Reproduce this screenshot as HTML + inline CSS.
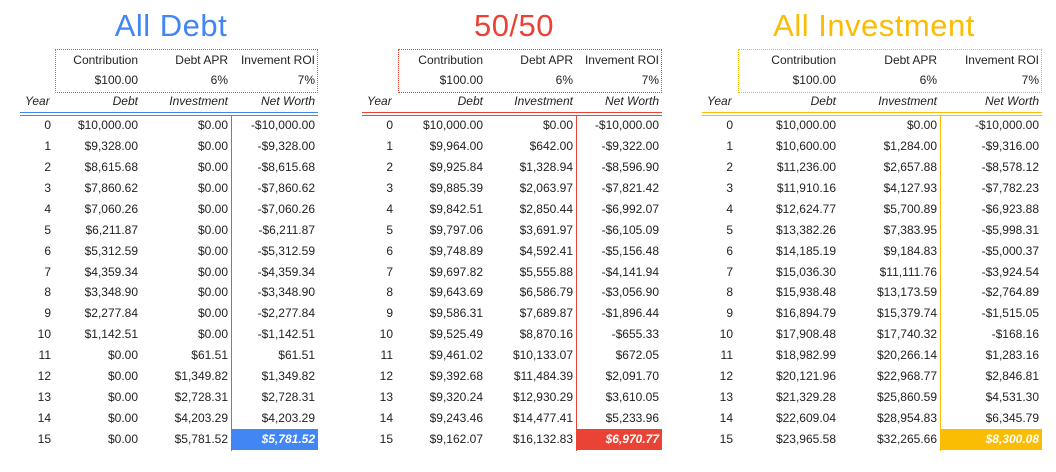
<!DOCTYPE html>
<html><head><meta charset="utf-8">
<style>
body{margin:0;width:1056px;height:472px;background:#fff;position:relative;overflow:hidden;font-family:"Liberation Sans",sans-serif;color:#222}
.t{position:absolute;white-space:nowrap;font-size:12px;line-height:14px}
.r{text-align:right}
.title{position:absolute;font-size:31px;font-weight:300;letter-spacing:0.5px;text-align:center;width:300px;top:8px;line-height:36px}
.box{position:absolute;border:1px dotted;top:49px;height:42px}
.hl{position:absolute}
</style></head><body>
<script>
const years=[0,1,2,3,4,5,6,7,8,9,10,11,12,13,14,15];
const debtA=["$10,000.00","$9,328.00","$8,615.68","$7,860.62","$7,060.26","$6,211.87","$5,312.59","$4,359.34","$3,348.90","$2,277.84","$1,142.51","$0.00","$0.00","$0.00","$0.00","$0.00"];
const invA=["$0.00","$0.00","$0.00","$0.00","$0.00","$0.00","$0.00","$0.00","$0.00","$0.00","$0.00","$61.51","$1,349.82","$2,728.31","$4,203.29","$5,781.52"];
const nwA=["-$10,000.00","-$9,328.00","-$8,615.68","-$7,860.62","-$7,060.26","-$6,211.87","-$5,312.59","-$4,359.34","-$3,348.90","-$2,277.84","-$1,142.51","$61.51","$1,349.82","$2,728.31","$4,203.29","$5,781.52"];
const debtB=["$10,000.00","$9,964.00","$9,925.84","$9,885.39","$9,842.51","$9,797.06","$9,748.89","$9,697.82","$9,643.69","$9,586.31","$9,525.49","$9,461.02","$9,392.68","$9,320.24","$9,243.46","$9,162.07"];
const invB=["$0.00","$642.00","$1,328.94","$2,063.97","$2,850.44","$3,691.97","$4,592.41","$5,555.88","$6,586.79","$7,689.87","$8,870.16","$10,133.07","$11,484.39","$12,930.29","$14,477.41","$16,132.83"];
const nwB=["-$10,000.00","-$9,322.00","-$8,596.90","-$7,821.42","-$6,992.07","-$6,105.09","-$5,156.48","-$4,141.94","-$3,056.90","-$1,896.44","-$655.33","$672.05","$2,091.70","$3,610.05","$5,233.96","$6,970.77"];
const debtC=["$10,000.00","$10,600.00","$11,236.00","$11,910.16","$12,624.77","$13,382.26","$14,185.19","$15,036.30","$15,938.48","$16,894.79","$17,908.48","$18,982.99","$20,121.96","$21,329.28","$22,609.04","$23,965.58"];
const invC=["$0.00","$1,284.00","$2,657.88","$4,127.93","$5,700.89","$7,383.95","$9,184.83","$11,111.76","$13,173.59","$15,379.74","$17,740.32","$20,266.14","$22,968.77","$25,860.59","$28,954.83","$32,265.66"];
const nwC=["-$10,000.00","-$9,316.00","-$8,578.12","-$7,782.23","-$6,923.88","-$5,998.31","-$5,000.37","-$3,924.54","-$2,764.89","-$1,515.05","-$168.16","$1,283.16","$2,846.81","$4,531.30","$6,345.79","$8,300.08"];
const tables=[
 {name:"all-debt",title:"All Debt",color:"#4285f4",cols:[20,55,141,231,318],debt:debtA,inv:invA,nw:nwA},
 {name:"fifty-fifty",title:"50/50",color:"#ea4335",cols:[362,398,486,576,662],debt:debtB,inv:invB,nw:nwB},
 {name:"all-investment",title:"All Investment",color:"#fbbc04",cols:[702,738,839,940,1042],debt:debtC,inv:invC,nw:nwC}
];
const B=document.body;
function add(cls,txt,style,name){const d=document.createElement('div');d.className=cls;if(txt!==null)d.textContent=txt;d.style.cssText=style;


B.appendChild(d);return d;}
const rowTop=115,rowH=20.93;
tables.forEach(t=>{
 const c=t.cols;
 add('title',t.title,`left:${(c[0]+c[4])/2-150+2}px;color:${t.color}`,t.name+'-title');
 add('box',null,`left:${c[1]}px;width:${c[4]-c[1]-2}px;border-color:${t.color}`,t.name+'-params-box');
 const ph=["Contribution","Debt APR","Invement ROI"],pv=["$100.00","6%","7%"];
 for(let i=0;i<3;i++){
  add('t r',ph[i],`left:${c[i+1]}px;width:${c[i+2]-c[i+1]-3}px;top:53px`,t.name+'-param-label');
  add('t r',pv[i],`left:${c[i+1]}px;width:${c[i+2]-c[i+1]-3}px;top:73px`,t.name+'-param-value');
 }
 const hd=["Year","Debt","Investment","Net Worth"];
 for(let i=0;i<4;i++){
  add('t'+(i?' r':''),hd[i],`left:${i?c[i]:c[0]+5}px;width:${i?c[i+1]-c[i]-3:30}px;top:94px;font-style:italic`,t.name+'-header-'+hd[i].toLowerCase().replace(' ','-'));
 }
 add('hl',null,`left:${c[0]}px;width:${c[4]-c[0]}px;top:112px;height:1px;background:${t.color}`,t.name+'-header-line-1');
 add('hl',null,`left:${c[0]}px;width:${c[4]-c[0]}px;top:115px;height:1px;background:${t.color}`,t.name+'-header-line-2');
 add('hl',null,`left:${c[3]}px;width:1px;top:116px;height:${rowH*16}px;background:${t.color}`,t.name+'-divider');
 years.forEach((y,k)=>{
  const top=rowTop+k*rowH+3;
  const last=k===years.length-1;
  add('t r',String(y),`left:${c[0]}px;width:31px;top:${top}px`,t.name+'-year');
  add('t r',t.debt[k],`left:${c[1]}px;width:${c[2]-c[1]-3}px;top:${top}px`,t.name+'-debt');
  add('t r',t.inv[k],`left:${c[2]}px;width:${c[3]-c[2]-3}px;top:${top}px`,t.name+'-investment');
  if(last){
   add('hl',null,`left:${c[3]}px;width:${c[4]-c[3]}px;top:${rowTop+k*rowH}px;height:${rowH}px;background:${t.color}`,t.name+'-final-highlight');
   add('t r',t.nw[k],`left:${c[3]}px;width:${c[4]-c[3]-3}px;top:${top}px;color:#fff;font-weight:bold;font-style:italic`,t.name+'-final-net-worth');
  } else add('t r',t.nw[k],`left:${c[3]}px;width:${c[4]-c[3]-3}px;top:${top}px`,t.name+'-net-worth');
 });
});
</script>
</body></html>
